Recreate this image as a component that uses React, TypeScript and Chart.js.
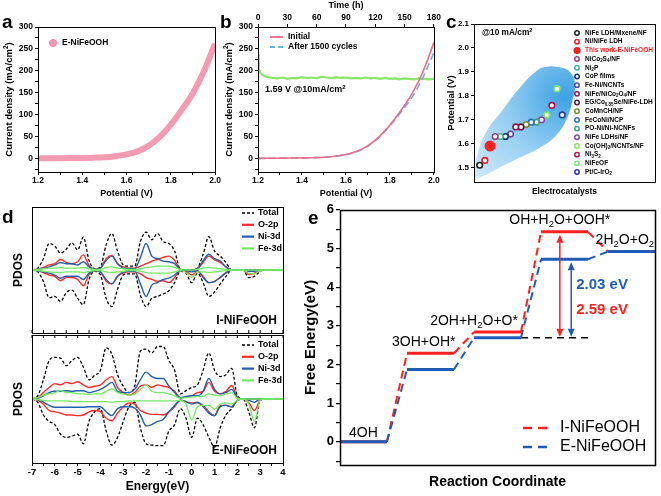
import React, { useEffect, useRef } from 'react';
import { Chart, registerables } from 'chart.js';

Chart.register(...registerables);

const FONT = '"Liberation Sans", Arial, Helvetica, sans-serif';
Chart.defaults.font.family = FONT;
Chart.defaults.color = '#000';

/* ---------------- panel a ---------------- */
const lsvPotential = [1.2, 1.25, 1.3, 1.35, 1.4, 1.45, 1.5, 1.55, 1.6, 1.65, 1.7, 1.75, 1.8, 1.85, 1.9, 1.95, 2.0];
const eNiFeOOHCurrent = [1, 1.2, 1.5, 1.8, 2.1, 2.6, 3.5, 6, 10, 17, 30, 50, 78, 112, 150, 200, 262];

/* ---------------- panel b ---------------- */
const initialCurrent = [1, 1.2, 1.5, 1.8, 2.1, 2.6, 3.5, 6, 10, 17, 30, 50, 77, 110, 148, 198, 265];
const after1500Current = [1, 1.2, 1.4, 1.7, 2.0, 2.5, 3.4, 5.6, 9.5, 16, 29, 49, 75, 106, 140, 185, 242];
const stabilityTime = [0, 0.5, 1, 2, 4, 7, 10, 15, 20, 25, 30, 35, 40, 45, 50, 55, 60, 65, 70, 75, 80, 85, 90, 95, 100, 105, 110, 115, 120, 125, 130, 135, 140, 145, 150, 155, 160, 165, 170, 175, 180];
const stabilityCurrent = [238, 215, 205, 197, 192, 188, 186, 184, 183, 185, 182, 184, 183, 186, 184, 185, 183, 187, 185, 184, 186, 184, 185, 183, 184, 183, 185, 183, 184, 182, 184, 182, 183, 181, 183, 182, 181, 183, 182, 181, 182];

/* ---------------- panel c ---------------- */
const catalystNames = ['NiFe LDH/Mxene/NF', 'Ni/NiFe LDH', 'This work-E-NiFeOOH', 'NiCo_2S_4/NF', 'Ni_2P', 'CoP films', 'Fe-Ni/NCNTs', 'NiFe/NiCo_2O_4/NF', 'EG/Co_{0.85}Se/NiFe-LDH', 'CoMnCH/NF', 'FeCoNi/NCP', 'PO-Ni/Ni-NCNFs', 'NiFe LDHs/NF', 'Co(OH)_2/NCNTs/NF', 'Ni_3S_2', 'NiFeOF', 'Pt/C-IrO_2'];
const catalystPotential = [1.51, 1.53, 1.59, 1.63, 1.63, 1.63, 1.64, 1.67, 1.67, 1.68, 1.69, 1.69, 1.70, 1.72, 1.76, 1.83, 1.72];
const catalystColors = ['#222222', '#e8202a', '#ff1e1e', '#a0407a', '#3cb8a0', '#1a2a6c', '#5a4aa0', '#8a1a5a', '#5a1a3a', '#7a8a3a', '#2a70c0', '#3aa080', '#8a4a9a', '#7ee85a', '#b01a4a', '#7ee87a', '#2a3aa0'];
const blobIndex = [0.05, 0.5, 2.3, 5.4, 8.6, 11.8, 13.7, 16.2, 18.5, 19.5, 19.1, 17.8, 15.6, 12.4, 8.6, 4.8, 1.6, 0.4, 0.05];
const blobPotential = [1.47, 1.55, 1.65, 1.74, 1.83, 1.9, 1.92, 1.92, 1.9, 1.85, 1.79, 1.7, 1.63, 1.58, 1.54, 1.5, 1.465, 1.458, 1.47];

/* ---------------- panel d ---------------- */
const pdosEnergy = [-7, -6.75, -6.5, -6.25, -6, -5.75, -5.5, -5.25, -5, -4.75, -4.5, -4.25, -4, -3.75, -3.5, -3.25, -3, -2.75, -2.5, -2.25, -2, -1.75, -1.5, -1.25, -1, -0.75, -0.5, -0.25, 0, 0.25, 0.5, 0.75, 1, 1.25, 1.5, 1.75, 2, 2.25, 2.5, 2.75, 3, 3.25, 3.5, 3.75, 4];
const iTotalUp = [0, 0.03, 0.18, 0.42, 0.38, 0.27, 0.33, 0.43, 0.32, 0.52, 0.15, 0.02, 0.05, 0.40, 0.58, 0.30, 0.08, 0.06, 0.06, 0.45, 0.60, 0.48, 0.58, 0.45, 0.42, 0.30, 0.01, 0, 0, 0.03, 0.25, 0.53, 0.30, 0.22, 0.12, 0, 0, 0, 0, 0, 0, 0, 0, 0, 0];
const iTotalDn = [0, -0.03, -0.18, -0.44, -0.42, -0.50, -0.36, -0.32, -0.45, -0.55, -0.15, -0.02, -0.08, -0.45, -0.58, -0.30, -0.08, -0.06, -0.06, -0.40, -0.58, -0.45, -0.42, -0.38, -0.33, -0.20, -0.02, -0.05, -0.20, -0.05, -0.20, -0.42, -0.35, -0.22, -0.10, 0, 0, 0, -0.12, -0.10, -0.02, 0, 0, 0, 0];
const iO2pUp = [0, 0.01, 0.04, 0.08, 0.10, 0.17, 0.12, 0.10, 0.13, 0.24, 0.07, 0.01, 0.03, 0.18, 0.23, 0.10, 0.05, 0.03, 0.03, 0.06, 0.10, 0.14, 0.17, 0.20, 0.22, 0.15, 0.01, 0, 0, 0.02, 0.12, 0.22, 0.16, 0.12, 0.05, 0, 0, 0, 0, 0, 0, 0, 0, 0, 0];
const iO2pDn = [0, -0.01, -0.04, -0.08, -0.10, -0.17, -0.12, -0.12, -0.15, -0.25, -0.07, -0.01, -0.03, -0.18, -0.22, -0.10, -0.05, -0.03, -0.03, -0.06, -0.12, -0.15, -0.18, -0.17, -0.20, -0.12, -0.01, -0.02, -0.08, -0.02, -0.10, -0.20, -0.18, -0.12, -0.05, 0, 0, 0, -0.07, -0.05, -0.01, 0, 0, 0, 0];
const iNi3dUp = [0, 0.01, 0.03, 0.05, 0.08, 0.12, 0.10, 0.10, 0.08, 0.13, 0.05, 0.01, 0.03, 0.15, 0.22, 0.10, 0.03, 0.02, 0.02, 0.20, 0.42, 0.22, 0.18, 0.14, 0.13, 0.10, 0.01, 0, 0, 0.02, 0.15, 0.25, 0.18, 0.14, 0.05, 0, 0, 0, 0, 0, 0, 0, 0, 0, 0];
const iNi3dDn = [0, -0.01, -0.03, -0.05, -0.08, -0.13, -0.10, -0.10, -0.10, -0.15, -0.05, -0.01, -0.03, -0.15, -0.22, -0.10, -0.03, -0.02, -0.02, -0.22, -0.42, -0.24, -0.20, -0.15, -0.13, -0.08, -0.01, -0.01, -0.03, -0.01, -0.12, -0.20, -0.18, -0.12, -0.04, 0, 0, 0, -0.02, -0.02, 0, 0, 0, 0, 0];
const iFe3dUp = [0, 0.01, 0.02, 0.03, 0.03, 0.04, 0.03, 0.03, 0.03, 0.04, 0.02, 0.01, 0.01, 0.04, 0.05, 0.03, 0.02, 0.01, 0.01, 0.02, 0.04, 0.05, 0.06, 0.06, 0.06, 0.04, 0.01, 0, 0, 0.01, 0.03, 0.04, 0.03, 0.02, 0.01, 0, 0, 0, 0, 0, 0, 0, 0, 0, 0];
const iFe3dDn = [0, -0.01, -0.02, -0.03, -0.04, -0.04, -0.03, -0.03, -0.03, -0.04, -0.02, -0.01, -0.01, -0.03, -0.04, -0.03, -0.02, -0.01, -0.01, -0.02, -0.04, -0.05, -0.05, -0.05, -0.05, -0.03, -0.01, -0.04, -0.12, -0.03, -0.03, -0.04, -0.03, -0.02, -0.01, 0, 0, 0, -0.05, -0.06, -0.01, 0, 0, 0, 0];
const eTotalUp = [0, 0.05, 0.30, 0.60, 0.65, 0.64, 0.52, 0.60, 0.65, 0.50, 0.30, 0.37, 0.45, 0.80, 0.70, 0.38, 0.20, 0.10, 0.20, 0.75, 0.78, 0.72, 0.82, 0.82, 0.60, 0.45, 0.08, 0.13, 0.18, 0.22, 0.45, 0.72, 0.45, 0.35, 0.38, 0.48, 0.05, 0, 0, 0, 0, 0, 0, 0, 0];
const eTotalDn = [0, -0.05, -0.25, -0.35, -0.40, -0.55, -0.60, -0.58, -0.55, -0.70, -0.35, -0.20, -0.15, -0.50, -0.72, -0.60, -0.35, -0.12, -0.05, -0.45, -0.70, -0.72, -0.73, -0.73, -0.50, -0.40, -0.15, -0.30, -0.60, -0.30, -0.40, -0.60, -0.75, -0.45, -0.25, -0.15, -0.02, 0, -0.20, -0.45, -0.02, 0, 0, 0, 0];
const eO2pUp = [0, 0.02, 0.10, 0.18, 0.24, 0.22, 0.26, 0.24, 0.27, 0.22, 0.18, 0.20, 0.22, 0.30, 0.35, 0.18, 0.10, 0.06, 0.10, 0.20, 0.22, 0.18, 0.22, 0.20, 0.18, 0.12, 0.02, 0.03, 0.05, 0.10, 0.12, 0.26, 0.12, 0.08, 0.12, 0.21, 0.03, 0, 0, 0, 0, 0, 0, 0, 0];
const eO2pDn = [0, -0.02, -0.08, -0.18, -0.20, -0.22, -0.25, -0.25, -0.26, -0.25, -0.20, -0.18, -0.20, -0.30, -0.34, -0.22, -0.12, -0.06, -0.08, -0.18, -0.22, -0.24, -0.24, -0.25, -0.20, -0.12, -0.02, -0.04, -0.06, -0.06, -0.10, -0.20, -0.26, -0.10, -0.10, -0.12, -0.02, 0, -0.06, -0.18, -0.02, 0, 0, 0, 0];
const eNi3dUp = [0, 0.01, 0.05, 0.10, 0.12, 0.12, 0.13, 0.12, 0.13, 0.13, 0.10, 0.12, 0.15, 0.20, 0.26, 0.12, 0.10, 0.10, 0.15, 0.30, 0.42, 0.35, 0.32, 0.32, 0.20, 0.10, 0.02, 0.04, 0.05, 0.05, 0.12, 0.32, 0.15, 0.08, 0.10, 0.15, 0.02, 0, 0, 0, 0, 0, 0, 0, 0];
const eNi3dDn = [0, -0.01, -0.05, -0.10, -0.13, -0.13, -0.13, -0.13, -0.13, -0.13, -0.12, -0.12, -0.12, -0.20, -0.26, -0.15, -0.12, -0.12, -0.14, -0.25, -0.42, -0.40, -0.35, -0.32, -0.20, -0.10, -0.02, -0.04, -0.08, -0.05, -0.12, -0.22, -0.26, -0.12, -0.10, -0.12, -0.02, 0, -0.02, -0.05, 0, 0, 0, 0, 0];
const eFe3dUp = [0, 0.02, 0.06, 0.08, 0.10, 0.13, 0.10, 0.10, 0.08, 0.08, 0.07, 0.08, 0.08, 0.12, 0.16, 0.10, 0.08, 0.06, 0.08, 0.15, 0.22, 0.12, 0.10, 0.10, 0.08, 0.05, 0.01, 0.02, 0.03, 0.04, 0.04, 0.08, 0.06, 0.05, 0.08, 0.10, 0.01, 0, 0, 0, 0, 0, 0, 0, 0];
const eFe3dDn = [0, -0.01, -0.02, -0.03, -0.03, -0.03, -0.03, -0.04, -0.04, -0.04, -0.04, -0.04, -0.04, -0.04, -0.05, -0.04, -0.04, -0.03, -0.03, -0.03, -0.03, -0.03, -0.03, -0.03, -0.03, -0.03, -0.02, -0.08, -0.33, -0.12, -0.10, -0.10, -0.16, -0.08, -0.06, -0.08, -0.02, 0, -0.08, -0.35, -0.02, 0, 0, 0, 0];
const pdosSeriesNames = ['Total', 'O-2p', 'Ni-3d', 'Fe-3d'];

/* ---------------- panel e ---------------- */
const stepIndex = [0, 1, 2, 3, 4];
const stepNames = ['4OH', '3OH+OH*', '2OH+H_2O+O*', 'OH+H_2O+OOH*', '2H_2O+O_2'];
const levelsI = [0, 2.29, 2.84, 5.43, 4.92];
const levelsE = [0, 1.87, 2.69, 4.72, 4.92];

/* ---------------- helpers ---------------- */
const RED = '#ff1f1f';
const BLUE = '#1f5cb8';
const D_RED = '#ff2a2a';
const D_BLUE = '#2060b0';
const D_GREEN = '#74ea62';
const LEVEL_W = 0.7;

const bold = (size: number) => ({ family: FONT, size, weight: 'bold' as const });

function drawRich(ctx: any, text: string, x: number, y: number, size: number, color: string, align = 'left', weight = 'bold') {
  const parts: any[] = [];
  let buf = '';
  for (let i = 0; i < text.length; ) {
    const ch = text[i];
    if ((ch === '_' || ch === '^') && i + 1 < text.length) {
      if (buf) { parts.push({ t: buf, m: 0 }); buf = ''; }
      let t;
      if (text[i + 1] === '{') { const j = text.indexOf('}', i); t = text.slice(i + 2, j); i = j + 1; }
      else { t = text[i + 1]; i += 2; }
      parts.push({ t, m: ch === '_' ? 1 : 2 });
    } else { buf += ch; i++; }
  }
  if (buf) parts.push({ t: buf, m: 0 });
  const fontOf = (m: number) => `${weight} ${m ? size * 0.68 : size}px ${FONT}`;
  let total = 0;
  for (const p of parts) { ctx.font = fontOf(p.m); p.w = ctx.measureText(p.t).width; total += p.w; }
  let cx = align === 'left' ? x : align === 'center' ? x - total / 2 : x - total;
  ctx.save();
  ctx.fillStyle = color; ctx.textAlign = 'left'; ctx.textBaseline = 'middle';
  for (const p of parts) {
    ctx.font = fontOf(p.m);
    const dy = p.m === 1 ? size * 0.3 : p.m === 2 ? -size * 0.32 : 0;
    ctx.fillText(p.t, cx, y + dy);
    cx += p.w;
  }
  ctx.restore();
}

function verticalTitle(ctx: any, text: string, cx: number, cy: number, size: number) {
  ctx.save();
  ctx.translate(cx, cy);
  ctx.rotate(-Math.PI / 2);
  drawRich(ctx, text, 0, 0, size, '#000', 'center');
  ctx.restore();
}

function panelLetter(ctx: any, letter: string, x: number, baseline: number) {
  ctx.save();
  ctx.font = `bold 19px ${FONT}`; ctx.fillStyle = '#000'; ctx.textAlign = 'left'; ctx.textBaseline = 'alphabetic';
  ctx.fillText(letter, x, baseline);
  ctx.restore();
}

function line(ctx: any, x1: number, y1: number, x2: number, y2: number, color: string, width: number, dash: number[] = []) {
  ctx.save();
  ctx.strokeStyle = color; ctx.lineWidth = width; ctx.setLineDash(dash);
  ctx.beginPath(); ctx.moveTo(x1, y1); ctx.lineTo(x2, y2); ctx.stroke();
  ctx.restore();
}

const framePlugin = (w = 1) => ({
  id: 'frame',
  afterDatasetsDraw(chart: any) {
    const { ctx, chartArea: a } = chart;
    ctx.save(); ctx.strokeStyle = '#000'; ctx.lineWidth = w;
    ctx.strokeRect(Math.round(a.left) + 0.5, Math.round(a.top) + 0.5, Math.round(a.right - a.left), Math.round(a.bottom - a.top));
    ctx.restore();
  },
});

const extras = (draw: (chart: any) => void) => ({ id: 'extras', afterDraw(chart: any) { draw(chart); } });

function base(scales: any, padding: any, extra: any = {}) {
  return {
    responsive: false,
    animation: false,
    devicePixelRatio: 1,
    events: [],
    layout: { padding },
    plugins: { legend: { display: false }, tooltip: { enabled: false } },
    scales,
    ...extra,
  };
}

const xy = (xs: number[], ys: number[]) => xs.map((x, i) => ({ x, y: ys[i] }));

const potentialAxis = () => ({
  type: 'linear', min: 1.2, max: 2.0,
  ticks: { stepSize: 0.1, autoSkip: false, maxTicksLimit: 100, font: bold(8.5), padding: 1, maxRotation: 0, callback: (v: number) => (Math.round(v * 10) % 2 === 0 ? Number(v).toFixed(1) : '') },
  grid: { drawOnChartArea: false, tickLength: 3, color: '#000' }, border: { display: false },
  title: { display: true, text: 'Potential (V)', font: bold(9), padding: { top: 0, bottom: 1 } },
  afterFit: (s: any) => { s.height = 28; },
});

const currentAxis = () => ({
  type: 'linear', min: -30, max: 300,
  ticks: { stepSize: 25, autoSkip: false, includeBounds: false, maxTicksLimit: 100, font: bold(8.5), padding: 2, callback: (v: number) => (Math.round(v) % 50 === 0 ? String(Math.round(v)) : '') },
  grid: { drawOnChartArea: false, tickLength: 3, color: '#000' }, border: { display: false },
  title: { display: false },
  afterFit: (s: any) => { s.width = 38; },
});

const currentTitle = (chart: any) => {
  const a = chart.chartArea;
  verticalTitle(chart.ctx, 'Current density (mA/cm^2)', 9, (a.top + a.bottom) / 2, 9.5);
};

/* ---------------- chart configs ---------------- */
function configA(): any {
  return {
    type: 'line',
    data: {
      datasets: [{
        label: 'E-NiFeOOH', data: xy(lsvPotential, eNiFeOOHCurrent), borderColor: '#f49ab2', borderWidth: 6,
        pointRadius: 0, cubicInterpolationMode: 'monotone',
      }],
    },
    options: base({ x: potentialAxis(), y: currentAxis() }, { top: 27, right: 5, left: 0, bottom: 0 }),
    plugins: [framePlugin(1), extras((chart) => {
      const { ctx, chartArea: a } = chart;
      ctx.save();
      ctx.fillStyle = '#f49ab2'; ctx.strokeStyle = '#ee7f9f'; ctx.lineWidth = 1;
      ctx.beginPath(); ctx.arc(a.left + 15, a.top + 16, 3.5, 0, Math.PI * 2); ctx.fill(); ctx.stroke();
      ctx.restore();
      drawRich(ctx, 'E-NiFeOOH', a.left + 24, a.top + 16, 8.5, '#000');
      currentTitle(chart);
      panelLetter(ctx, 'a', 2, 28);
    })],
  };
}

function configB(): any {
  return {
    type: 'line',
    data: {
      datasets: [
        { label: 'Initial', data: xy(lsvPotential, initialCurrent), borderColor: '#f26a8a', borderWidth: 1.6, pointRadius: 0, cubicInterpolationMode: 'monotone' },
        { label: 'After 1500 cycles', data: xy(lsvPotential, after1500Current), borderColor: '#62b6e0', borderDash: [7, 4], borderWidth: 1.6, pointRadius: 0, cubicInterpolationMode: 'monotone' },
        { label: 'Stability', xAxisID: 'x2', data: xy(stabilityTime, stabilityCurrent), borderColor: '#8ae66a', borderWidth: 2.2, pointRadius: 0 },
      ],
    },
    options: base({
      x: potentialAxis(),
      x2: {
        type: 'linear', position: 'top', min: 0, max: 180,
        ticks: { stepSize: 30, autoSkip: false, maxTicksLimit: 100, font: bold(8.5), padding: 1, maxRotation: 0 },
        grid: { drawOnChartArea: false, tickLength: 3, color: '#000' }, border: { display: false },
        title: { display: true, text: 'Time (h)', font: bold(9), padding: { top: 0, bottom: 0 } },
        afterFit: (s: any) => { s.height = 27; },
      },
      y: currentAxis(),
    }, { top: 0, right: 4, left: 0, bottom: 0 }),
    plugins: [framePlugin(1), extras((chart) => {
      const { ctx, chartArea: a } = chart;
      line(ctx, a.left + 12, a.top + 10, a.left + 25, a.top + 10, '#f26a8a', 1.8);
      drawRich(ctx, 'Initial', a.left + 30, a.top + 10, 8.5, '#000');
      line(ctx, a.left + 12, a.top + 20, a.left + 25, a.top + 20, '#62b6e0', 1.8, [5, 3]);
      drawRich(ctx, 'After 1500 cycles', a.left + 30, a.top + 20, 8.5, '#000');
      drawRich(ctx, '1.59 V @10mA/cm^2', a.left + 7, a.top + 63, 9, '#000');
      currentTitle(chart);
      panelLetter(ctx, 'b', 0, 28);
    })],
  };
}

function configC(): any {
  const points = catalystNames.map((name, i) => ({
    label: name,
    data: [{ x: i + 1, y: catalystPotential[i] }],
    showLine: false,
    pointRadius: i === 2 ? 5 : 2.8,
    pointBorderWidth: i === 2 ? 1 : 1.6,
    pointBorderColor: catalystColors[i],
    pointBackgroundColor: i === 2 ? catalystColors[i] : '#ffffff',
  }));
  const blob = {
    label: 'region',
    data: xy(blobIndex, blobPotential),
    showLine: true, fill: 'shape', tension: 0.45, borderWidth: 0, pointRadius: 0,
    backgroundColor: (ctx: any) => {
      const chart = ctx.chart;
      if (!chart.chartArea) return 'rgba(120,190,235,0.6)';
      const cx = chart.scales.x.getPixelForValue(17.5);
      const cy = chart.scales.y.getPixelForValue(1.8);
      const g = chart.ctx.createRadialGradient(cx, cy, 4, cx, cy, 150);
      g.addColorStop(0, 'rgba(50,155,226,0.92)');
      g.addColorStop(0.4, 'rgba(115,190,238,0.75)');
      g.addColorStop(1, 'rgba(222,239,250,0.7)');
      return g;
    },
  };
  return {
    type: 'line',
    data: { datasets: [...points, blob] },
    options: base({
      x: {
        type: 'linear', min: -0.1, max: 35,
        ticks: { display: false }, grid: { display: false }, border: { display: false },
        title: { display: true, text: 'Electrocatalysts', font: bold(8.5), padding: { top: 0, bottom: 3 } },
        afterFit: (s: any) => { s.height = 18; },
      },
      y: {
        min: 1.44, max: 2.1,
        ticks: { stepSize: 0.1, autoSkip: false, includeBounds: false, maxTicksLimit: 100, font: bold(8), padding: 2, callback: (v: number) => Number(v).toFixed(1) },
        grid: { drawOnChartArea: false, tickLength: 3, color: '#000' }, border: { display: false },
        title: { display: true, text: 'Potential (V)', font: bold(9.5), padding: { top: 6, bottom: 0 } },
        afterFit: (s: any) => { s.width = 34; },
      },
    }, { top: 24, right: 2, left: 0, bottom: 0 }),
    plugins: [framePlugin(1), extras((chart) => {
      const { ctx, chartArea: a } = chart;
      drawRich(ctx, '@10 mA/cm^2', a.left + 8, a.top + 9, 8.3, '#000');
      catalystNames.forEach((name, i) => {
        const y = a.top + 9 + i * 8.69;
        const x = a.left + 103;
        ctx.save();
        ctx.beginPath(); ctx.arc(x, y, i === 2 ? 3.5 : 2.2, 0, Math.PI * 2);
        if (i === 2) { ctx.fillStyle = catalystColors[i]; ctx.fill(); }
        else { ctx.fillStyle = '#fff'; ctx.fill(); ctx.strokeStyle = catalystColors[i]; ctx.lineWidth = 1.5; ctx.stroke(); }
        ctx.restore();
        drawRich(ctx, name, x + 8, y, 6.5, i === 2 ? '#ff1e1e' : '#000');
      });
      panelLetter(ctx, 'c', 6, 28);
    })],
  };
}

function configD(series: number[][], sampleName: string, bottom: boolean): any {
  const [totUp, totDn, oUp, oDn, niUp, niDn, feUp, feDn] = series;
  const ds = (data: number[], color: string, width: number, dash: number[] = []) => ({
    data: xy(pdosEnergy, data), borderColor: color, borderWidth: width, borderDash: dash, pointRadius: 0, cubicInterpolationMode: 'monotone',
  });
  const colors = ['#000', D_RED, D_BLUE, D_GREEN];
  return {
    type: 'line',
    data: {
      datasets: [
        ds(feUp, D_GREEN, 1.3), ds(feDn, D_GREEN, 1.3),
        ds(niUp, D_BLUE, 1.4), ds(niDn, D_BLUE, 1.4),
        ds(oUp, D_RED, 1.4), ds(oDn, D_RED, 1.4),
        ds(totUp, '#000', 1.3, [3, 2]), ds(totDn, '#000', 1.3, [3, 2]),
      ],
    },
    options: base({
      x: bottom ? {
        type: 'linear', min: -7, max: 4,
        ticks: { stepSize: 0.5, autoSkip: false, maxTicksLimit: 100, font: bold(9.5), padding: 1, maxRotation: 0, callback: (v: number) => (Number.isInteger(v) ? String(v) : '') },
        grid: { drawOnChartArea: false, tickLength: 3, color: '#000' }, border: { display: false },
        title: { display: true, text: 'Energy(eV)', font: bold(12), padding: { top: 0, bottom: 2 } },
        afterFit: (s: any) => { s.height = 33; },
      } : {
        type: 'linear', min: -7, max: 4,
        ticks: { display: false, stepSize: 0.5, autoSkip: false, maxTicksLimit: 100 }, grid: { display: false }, border: { display: false },
        afterFit: (s: any) => { s.height = 1; },
      },
      y: {
        min: -1, max: 1,
        ticks: { display: false }, grid: { display: false }, border: { display: false },
        title: { display: true, text: 'PDOS', font: bold(12), padding: { top: 11, bottom: 0 } },
        afterFit: (s: any) => { s.width = 32; },
      },
    }, bottom ? { top: 1, right: 17, left: 0, bottom: 0 } : { top: 7, right: 17, left: 0, bottom: 0 }),
    plugins: [framePlugin(1), extras((chart) => {
      const { ctx, chartArea: a, scales } = chart;
      const edgeY = bottom ? a.top : a.bottom;
      const dir = bottom ? 1 : -1;
      scales.x.ticks.forEach((t: any) => {
        const px = scales.x.getPixelForValue(t.value);
        line(ctx, px, edgeY, px, edgeY + dir * 3, '#000', 1);
      });
      const y0 = a.top + (bottom ? 10 : 6);
      pdosSeriesNames.forEach((n, i) => {
        const y = y0 + i * 11.8;
        line(ctx, a.right - 41, y, a.right - 29, y, colors[i], i === 0 ? 1.6 : 2.2, i === 0 ? [3, 2] : []);
        drawRich(ctx, n, a.right - 25, y, 9, '#000');
      });
      drawRich(ctx, sampleName, a.right - 6, a.bottom - 12, 12, '#000', 'right');
      if (!bottom) panelLetter(ctx, 'd', 2, 23);
    })],
  };
}

function levelPath(levels: number[]) {
  const pts: any[] = [];
  stepIndex.forEach((s, i) => { pts.push({ x: s, y: levels[i] }); pts.push({ x: s + LEVEL_W, y: levels[i] }); });
  return pts;
}

function arrow(ctx: any, x: number, yTop: number, yBot: number, color: string) {
  const h = 8, w = 3.5;
  ctx.save();
  ctx.strokeStyle = color; ctx.fillStyle = color; ctx.lineWidth = 1.5;
  ctx.beginPath(); ctx.moveTo(x, yTop + h); ctx.lineTo(x, yBot - h); ctx.stroke();
  ctx.beginPath(); ctx.moveTo(x, yTop); ctx.lineTo(x - w, yTop + h); ctx.lineTo(x + w, yTop + h); ctx.closePath(); ctx.fill();
  ctx.beginPath(); ctx.moveTo(x, yBot); ctx.lineTo(x - w, yBot - h); ctx.lineTo(x + w, yBot - h); ctx.closePath(); ctx.fill();
  ctx.restore();
}

function configE(): any {
  const levelDs = (label: string, levels: number[], color: string) => ({
    label, data: levelPath(levels), borderColor: color, borderWidth: 3, pointRadius: 0,
    segment: {
      borderDash: (c: any) => (c.p0DataIndex % 2 === 1 ? [8, 5] : undefined),
      borderWidth: (c: any) => (c.p0DataIndex % 2 === 1 ? 2 : 3),
    },
  });
  return {
    type: 'line',
    data: {
      datasets: [
        levelDs('E-NiFeOOH', levelsE, BLUE),
        levelDs('I-NiFeOOH', levelsI, RED),
        { label: 'ref', data: [{ x: stepIndex[2] + LEVEL_W, y: levelsE[2] }, { x: stepIndex[3] + LEVEL_W, y: levelsE[2] }], borderColor: '#000', borderWidth: 1.5, borderDash: [7, 5], pointRadius: 0 },
      ],
    },
    options: base({
      x: {
        type: 'linear', min: 0, max: 4.7,
        ticks: { display: false }, grid: { display: false }, border: { display: false },
        title: { display: true, text: 'Reaction Coordinate', font: bold(14), padding: { top: 0, bottom: 5 } },
        afterFit: (s: any) => { s.height = 31; },
      },
      y: {
        type: 'linear', min: -0.6, max: 6,
        ticks: { stepSize: 0.5, autoSkip: false, includeBounds: false, maxTicksLimit: 100, font: bold(13), padding: 2, callback: (v: number) => (Math.abs(v - Math.round(v)) < 1e-6 ? String(Math.round(v)) : '') },
        grid: { drawOnChartArea: false, tickLength: 4, color: '#000', lineWidth: 1.2 }, border: { display: false },
        title: { display: true, text: 'Free Energy(eV)', font: bold(15), padding: { top: 2, bottom: 0 } },
        afterFit: (s: any) => { s.width = 40; },
      },
    }, { top: 8, right: 6, left: 0, bottom: 0 }),
    plugins: [framePlugin(1.5), extras((chart) => {
      const { ctx, chartArea: a, scales } = chart;
      const X = (v: number) => scales.x.getPixelForValue(v);
      const Y = (v: number) => scales.y.getPixelForValue(v);
      const dx = [0, -0.1, -0.35, -0.07, -0.1];
      const lift = [9, 11, 11, 12, 11];
      stepNames.forEach((n, i) => {
        const top = Math.max(levelsI[i], levelsE[i]);
        drawRich(ctx, n, X(stepIndex[i] + LEVEL_W / 2 + dx[i]), Y(top) - lift[i], 14, '#000', 'center', 'normal');
      });
      arrow(ctx, X(3.28), Y(levelsI[3]) + 3, Y(levelsE[2]) - 1, RED);
      arrow(ctx, X(3.45), Y(levelsE[3]) + 3, Y(levelsE[2]) - 1, BLUE);
      drawRich(ctx, `${(levelsE[3] - levelsE[2]).toFixed(2)} eV`, X(3.91), Y(4.05), 15, BLUE, 'center');
      drawRich(ctx, `${(levelsI[3] - levelsI[2]).toFixed(2)} eV`, X(3.91), Y(3.41), 15, RED, 'center');
      line(ctx, a.right - 132, a.bottom - 37, a.right - 108, a.bottom - 37, RED, 2.5, [9, 6]);
      drawRich(ctx, 'I-NiFeOOH', a.right - 95, a.bottom - 37, 16, '#000', 'left', 'normal');
      line(ctx, a.right - 132, a.bottom - 18, a.right - 108, a.bottom - 18, BLUE, 2.5, [9, 6]);
      drawRich(ctx, 'E-NiFeOOH', a.right - 95, a.bottom - 18, 16, '#000', 'left', 'normal');
      panelLetter(ctx, 'e', 8, 24);
    })],
  };
}

export default function App() {
  const refA = useRef<HTMLCanvasElement>(null);
  const refB = useRef<HTMLCanvasElement>(null);
  const refC = useRef<HTMLCanvasElement>(null);
  const refD1 = useRef<HTMLCanvasElement>(null);
  const refD2 = useRef<HTMLCanvasElement>(null);
  const refE = useRef<HTMLCanvasElement>(null);

  useEffect(() => {
    const charts = [
      new Chart(refA.current as any, configA()),
      new Chart(refB.current as any, configB()),
      new Chart(refC.current as any, configC()),
      new Chart(refD1.current as any, configD([iTotalUp, iTotalDn, iO2pUp, iO2pDn, iNi3dUp, iNi3dDn, iFe3dUp, iFe3dDn], 'I-NiFeOOH', false)),
      new Chart(refD2.current as any, configD([eTotalUp, eTotalDn, eO2pUp, eO2pDn, eNi3dUp, eNi3dDn, eFe3dUp, eFe3dDn], 'E-NiFeOOH', true)),
      new Chart(refE.current as any, configE()),
    ];
    return () => { charts.forEach((c) => c.destroy()); };
  }, []);

  const abs = (left: number, top: number): React.CSSProperties => ({ position: 'absolute', left, top });

  return (
    <div style={{ position: 'absolute', left: 0, top: 0, width: 661, height: 496, background: '#fff', overflow: 'hidden' }}>
      <canvas ref={refA} width={222} height={200} style={abs(0, 0)} />
      <canvas ref={refB} width={222} height={200} style={abs(220, 0)} />
      <canvas ref={refC} width={221} height={200} style={abs(440, 0)} />
      <canvas ref={refD1} width={300} height={134} style={abs(0, 200)} />
      <canvas ref={refD2} width={300} height={162} style={abs(0, 334)} />
      <canvas ref={refE} width={361} height={296} style={abs(300, 200)} />
    </div>
  );
}
